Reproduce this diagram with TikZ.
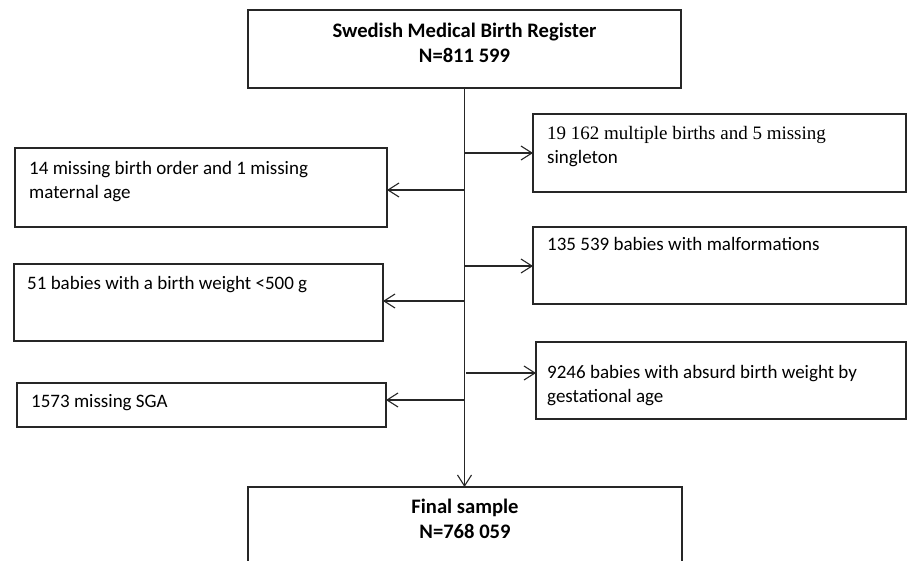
\documentclass[tikz,border=0pt]{standalone}
\usepackage{fontspec}
\setmainfont{Carlito}
\newfontfamily\timesfont{Liberation Serif}
\usetikzlibrary{arrows.meta}
\newcommand\linesx[2][l]{\begin{tabular}[t]{@{}#1@{}}#2\end{tabular}}
\begin{document}
\begin{tikzpicture}[x=1pt,y=-1pt,
  box/.style={draw=black!85, line width=1.1pt, rectangle, inner sep=0pt, outer sep=0pt, anchor=north west},
  txt/.style={font=\fontsize{19}{24}\selectfont, text=black, inner sep=0pt, anchor=base west},
  ttl/.style={font=\fontsize{20.6}{25}\selectfont\bfseries, text=black, inner sep=0pt, anchor=base},
  conn/.style={draw=black!85, line width=1.1pt, -{Straight Barb[length=11pt,width=14pt,line width=1.1pt]}}]
\useasboundingbox (0,0) rectangle (907,560);

% boxes
\node[box, minimum width=433pt, minimum height=78pt] (top) at (248,10) {};
\node[box, minimum width=372pt, minimum height=79pt] (l1) at (15,148) {};
\node[box, minimum width=373pt, minimum height=78pt] (r1) at (533,114) {};
\node[box, minimum width=373pt, minimum height=77pt] (r2) at (533,227) {};
\node[box, minimum width=369pt, minimum height=77pt] (l2) at (14,264) {};
\node[box, minimum width=370pt, minimum height=77pt] (r3) at (536,342) {};
\node[box, minimum width=369pt, minimum height=44pt] (l3) at (17,383) {};
\node[box, minimum width=434pt, minimum height=95pt] (final) at (248,487) {};

% texts
\node[ttl] (toptxt) at (464.5,37) {\linesx[c]{Swedish Medical Birth Register\\N=811 599}};
\node[txt] (l1txt) at (29,174) {\linesx{14 missing birth order and 1 missing\\maternal age}};
\node[txt] (r1txt) at (547,139) {\linesx{{\timesfont 19 162 multiple births and 5 missing}\\singleton}};
\node[txt] (r2txt) at (547,250) {135 539 babies with malformations};
\node[txt] (l2txt) at (27,289) {51 babies with a birth weight <500 g};
\node[txt] (r3txt) at (547,378) {\linesx{9246 babies with absurd birth weight by\\gestational age}};
\node[txt] (l3txt) at (31,407) {1573 missing SGA};
\node[ttl] (finaltxt) at (465,513) {\linesx[c]{Final sample\\N=768 059}};

% trunk
\draw[conn] (top.south) -- (top.south |- final.north);

% branch points on the trunk
\coordinate (t1) at (top.south |- 0,153);
\coordinate (t2) at (top.south |- 0,190);
\coordinate (t3) at (top.south |- 0,266);
\coordinate (t4) at (top.south |- 0,301);
\coordinate (t5) at (466,373);
\coordinate (t6) at (top.south |- 0,400);

\draw[conn] (t1) -- (r1.west |- t1);
\draw[conn] (t2) -- (l1.east |- t2);
\draw[conn] (t3) -- (r2.west |- t3);
\draw[conn] (t4) -- (l2.east |- t4);
\draw[conn] (t5) -- (r3.west |- t5);
\draw[conn] (t6) -- (l3.east |- t6);
\end{tikzpicture}
\end{document}
